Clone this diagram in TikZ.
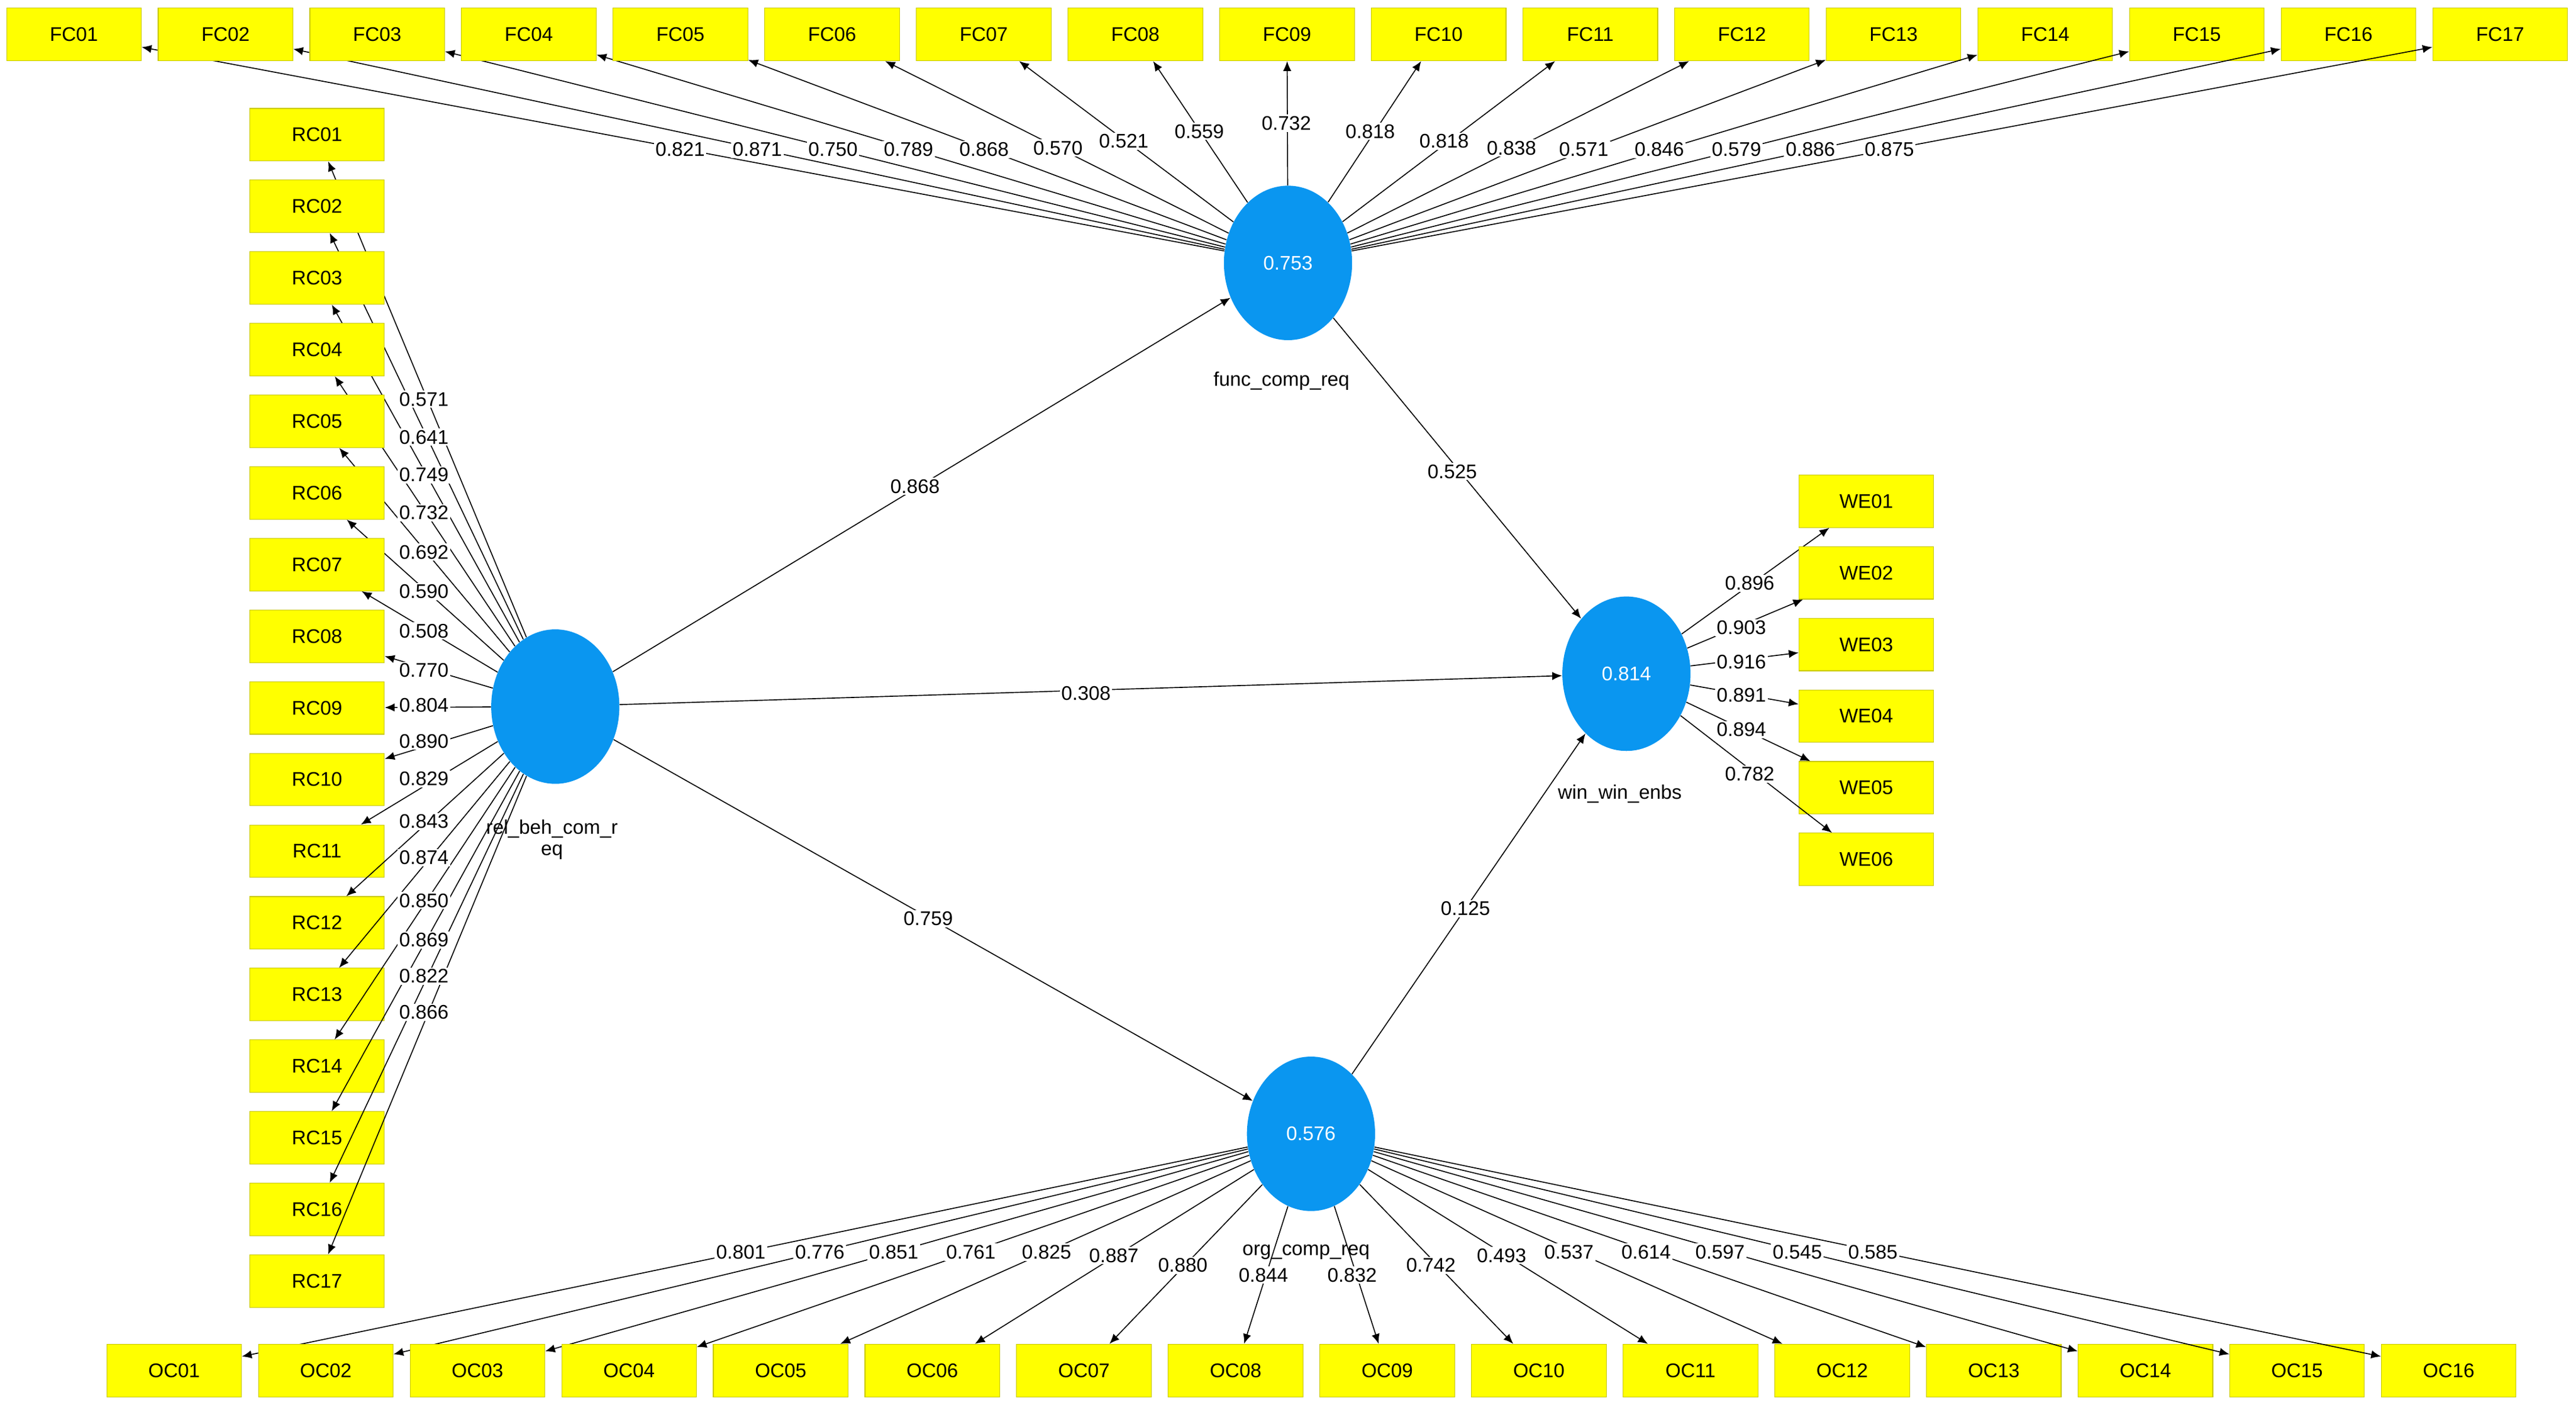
\documentclass[tikz,border=0pt]{standalone}
\usepackage{fontspec}
\setmainfont{Liberation Sans}
\usetikzlibrary{arrows.meta}
\definecolor{boxy}{HTML}{FFFF00}
\definecolor{boxb}{HTML}{C8C800}
\definecolor{lvb}{HTML}{0A96F0}
\tikzset{
 box/.style={draw=boxb,fill=boxy,minimum width=82pt,minimum height=32pt,inner sep=0pt,font=\fontsize{12}{12}\selectfont},
 lv/.style={ellipse,fill=lvb,minimum width=78pt,minimum height=94pt,inner sep=0pt,text=white,font=\fontsize{12}{12}\selectfont},
 ar/.style={-{Latex[length=6pt,width=5pt]},line width=0.6pt},
 ld/.style={fill=white,inner sep=1pt,font=\fontsize{12}{12}\selectfont},
 nm/.style={font=\fontsize{12}{13}\selectfont,align=center}
}
\usetikzlibrary{shapes.geometric}
\begin{document}
\begin{tikzpicture}[x=1pt,y=-1pt]
\useasboundingbox (0,0) rectangle (1568,855);
\fill[white] (0,0) rectangle (1568,855);
% latent variables
\node[lv] (fc) at (784,160) {0.753};
\node[lv] (rc) at (338,430) {};
\node[lv] (we) at (990,410) {0.814};
\node[lv] (oc) at (798,690) {0.576};
% FC
\foreach \i in {1,...,17}{
 \pgfmathsetmacro\xx{45+(\i-1)*92.3}
 \node[box] (fc\i) at (\xx,21) {FC\ifnum\i<10 0\fi\i};
 \draw[ar] (fc) -- (fc\i);
}
\foreach \v/\x/\y in {0.821/414/91,0.871/461/91,0.750/507/91,0.789/553/91,0.868/599/91,0.570/644/90,0.521/684/86,0.559/730/80,0.732/783/75,0.818/834/80,0.818/879/86,0.838/920/90,0.571/964/91,0.846/1010/91,0.579/1057/91,0.886/1102/91,0.875/1150/91}
 \node[ld] at (\x,\y) {\v};
% RC
\foreach \i in {1,...,17}{
 \pgfmathsetmacro\yy{82+(\i-1)*43.6}
 \node[box] (rc\i) at (193,\yy) {RC\ifnum\i<10 0\fi\i};
 \draw[ar] (rc) -- (rc\i);
}
\foreach \v/\y in {0.571/243,0.641/266,0.749/289,0.732/312,0.692/336,0.590/360,0.508/384,0.770/408,0.804/429,0.890/451,0.829/474,0.843/500,0.874/522,0.850/548,0.869/572,0.822/594,0.866/616}
 \node[ld] at (258,\y) {\v};
% OC
\foreach \i in {1,...,16}{
 \pgfmathsetmacro\xx{106+(\i-1)*92.3}
 \node[box] (oc\i) at (\xx,834) {OC\ifnum\i<10 0\fi\i};
 \draw[ar] (oc) -- (oc\i);
}
\foreach \v/\x/\y in {0.801/451/762,0.776/499/762,0.851/544/762,0.761/591/762,0.825/637/762,0.887/678/764,0.880/720/770,0.844/769/776,0.832/823/776,0.742/871/770,0.493/914/764,0.537/955/762,0.614/1002/762,0.597/1047/762,0.545/1094/762,0.585/1140/762}
 \node[ld] at (\x,\y) {\v};
% WE
\foreach \i in {1,...,6}{
 \pgfmathsetmacro\yy{305+(\i-1)*43.6}
 \node[box] (we\i) at (1136,\yy) {WE0\i};
 \draw[ar] (we) -- (we\i);
}
\foreach \v/\x/\y in {0.896/1065/355,0.903/1060/382,0.916/1060/403,0.891/1060/423,0.894/1060/444,0.782/1065/471}
 \node[ld] at (\x,\y) {\v};
% structural paths
\draw[ar] (rc) -- (fc);
\draw[ar] (rc) -- (we);
\draw[ar] (rc) -- (oc);
\draw[ar] (fc) -- (we);
\draw[ar] (oc) -- (we);
\node[ld] at (557,296) {0.868};
\node[ld] at (884,287) {0.525};
\node[ld] at (661,422) {0.308};
\node[ld] at (565,559) {0.759};
\node[ld] at (892,553) {0.125};
% names
\node[nm] at (780,232) {func\_comp\_req};
\node[nm] at (336,511) {rel\_beh\_com\_r\\eq};
\node[nm] at (986,483) {win\_win\_enbs};
\node[nm] at (795,762) {org\_comp\_req};
\end{tikzpicture}
\end{document}
